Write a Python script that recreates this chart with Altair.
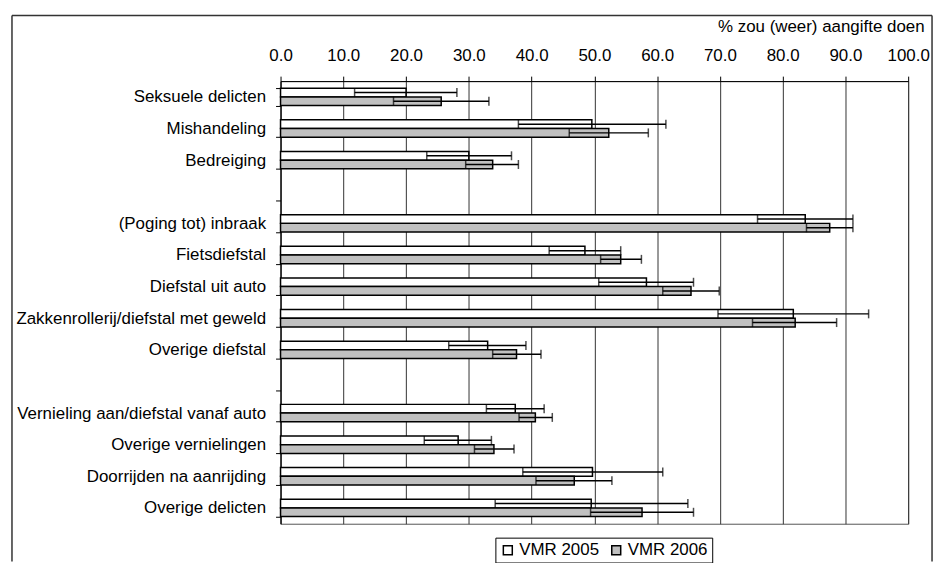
import altair as alt
import pandas as pd

# ---- data ----
order = ["Seksuele delicten", "Mishandeling", "Bedreiging", " ",
         "(Poging tot) inbraak", "Fietsdiefstal", "Diefstal uit auto",
         "Zakkenrollerij/diefstal met geweld", "Overige diefstal", "  ",
         "Vernieling aan/diefstal vanaf auto", "Overige vernielingen",
         "Doorrijden na aanrijding", "Overige delicten"]
data_cats = [c for c in order if c.strip()]
series = ["VMR 2005", "VMR 2006"]

v2005 = [20.0, 49.6, 30.0, 83.6, 48.5, 58.3, 81.7, 33.0, 37.4, 28.3, 49.7, 49.5]
lo2005 = [11.8, 37.9, 23.3, 76.0, 42.8, 50.7, 69.7, 26.8, 32.8, 22.9, 38.6, 34.2]
hi2005 = [28.1, 61.4, 36.8, 91.2, 54.2, 65.8, 93.7, 39.1, 42.0, 33.6, 60.9, 64.9]
v2006 = [25.6, 52.3, 33.8, 87.5, 54.2, 65.4, 82.0, 37.6, 40.6, 34.0, 46.8, 57.6]
lo2006 = [18.0, 46.0, 29.5, 83.8, 51.0, 60.9, 75.2, 33.8, 38.0, 30.9, 40.7, 49.4]
hi2006 = [33.2, 58.6, 37.9, 91.2, 57.5, 69.9, 88.6, 41.5, 43.3, 37.2, 52.8, 65.8]

x_ticks = [0, 10, 20, 30, 40, 50, 60, 70, 80, 90, 100]

rows = []
for i, c in enumerate(data_cats):
    rows.append(dict(cat=c, series=series[0], value=v2005[i], lo=lo2005[i], hi=hi2005[i]))
    rows.append(dict(cat=c, series=series[1], value=v2006[i], lo=lo2006[i], hi=hi2006[i]))
df = pd.DataFrame(rows)

W, H = 631, 445
FONT = "Liberation Sans"
FS = 17

x_axis = alt.Axis(orient="top", values=x_ticks, format=".1f",
                  title="% zou (weer) aangifte doen", titleFont=FONT,
                  titleFontSize=FS, titleFontWeight="normal", titleColor="black",
                  titleAlign="right", titleAnchor="end", titleX=W + 16, titleY=-50,
                  titleBaseline="alphabetic",
                  labelFont=FONT, labelFontSize=FS, labelColor="black",
                  labelBaseline="alphabetic", labelPadding=16, labelFlush=False,
                  labelOverlap=False,
                  tickSize=5, tickColor="black", tickWidth=1,
                  domainColor="black", domainWidth=1,
                  grid=True, gridColor="#333", gridWidth=1)
x_scale = alt.Scale(domain=[0, 100], nice=False, zero=True)


def X(field):
    return alt.X(field, type="quantitative", scale=x_scale, axis=x_axis)


y_enc = alt.Y("cat:N", sort=order,
              scale=alt.Scale(domain=order, paddingInner=0.45, paddingOuter=0.225),
              axis=alt.Axis(title=None, tickBand="extent", labelFont=FONT,
                            labelFontSize=FS, labelColor="black", labelPadding=10,
                            tickSize=5, tickColor="black", domainColor="black",
                            domainWidth=1, grid=False, labelLimit=400))
yoff = alt.YOffset("series:N", scale=alt.Scale(domain=series, paddingInner=0, paddingOuter=0))

bars = alt.Chart(df).mark_bar(stroke="black", strokeWidth=1.5).encode(
    x=X("value"),
    y=y_enc,
    yOffset=yoff,
    fill=alt.Fill("series:N", scale=alt.Scale(domain=series, range=["white", "#c0c0c0"]),
                  legend=alt.Legend(orient="none", legendX=216, legendY=459,
                                    direction="horizontal", title=None,
                                    strokeColor="black", padding=4,
                                    symbolType="square", symbolSize=81,
                                    symbolStrokeColor="black", symbolStrokeWidth=1.5,
                                    labelFont=FONT, labelFontSize=FS, labelColor="black",
                                    labelOffset=3, columnPadding=8)),
)

whisk = alt.Chart(df).mark_rule(color="black", strokeWidth=1.5).encode(
    x=X("lo"), x2="hi:Q", y=y_enc, yOffset=yoff)

caps = alt.Chart(df).transform_fold(["lo", "hi"], as_=["end", "pos"]).mark_tick(
    color="black", thickness=1.5, size=9).encode(
    x=X("pos"), y=y_enc, yOffset=yoff)

frame_data = alt.Data(values=[{}])
f_left = alt.Chart(frame_data).mark_rule(color="#333", strokeWidth=1.5).encode(
    x=alt.value(-270), y=alt.value(-66), y2=alt.value(H + 38))
f_top = alt.Chart(frame_data).mark_rule(color="#333", strokeWidth=1.5).encode(
    x=alt.value(-270), x2=alt.value(W + 24), y=alt.value(-66))
f_right = alt.Chart(frame_data).mark_rule(color="#333", strokeWidth=1.5).encode(
    x=alt.value(W + 24), y=alt.value(-66), y2=alt.value(H + 38))

chart = alt.layer(bars, whisk, caps, f_left, f_top, f_right).properties(
    width=W, height=H,
    padding={"left": 3, "top": 5, "right": 5, "bottom": 0},
).configure_view(stroke="#555", strokeWidth=1)

chart.save("out.html", embed_options={"renderer": "svg", "actions": False})
